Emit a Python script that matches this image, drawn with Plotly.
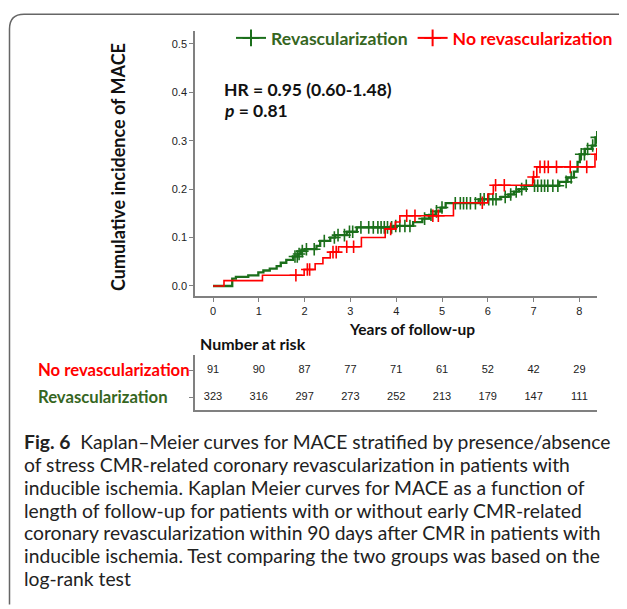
import numpy as np
import plotly.graph_objects as go

# ---------------- data ----------------
revasc_event_t = [0, 0.42, 0.50, 0.77, 0.99, 1.10, 1.24, 1.39, 1.48, 1.60, 1.75, 1.85, 1.92, 2.00,
                  2.26, 2.34, 2.56, 2.67, 2.92, 3.14, 3.95, 4.37, 4.57, 4.72, 4.86, 4.97, 5.08,
                  5.80, 6.28, 6.45, 6.57, 6.68, 6.80, 7.56, 7.74, 7.88, 7.96, 8.01, 8.12, 8.27, 8.35]
revasc_event_cum = [0, 0.015, 0.019, 0.022, 0.028, 0.032, 0.036, 0.041, 0.048, 0.054, 0.061, 0.066, 0.072, 0.076,
                    0.083, 0.093, 0.100, 0.105, 0.112, 0.121, 0.124, 0.132, 0.139, 0.147, 0.154, 0.162, 0.171,
                    0.179, 0.184, 0.189, 0.195, 0.200, 0.207, 0.215, 0.224, 0.236, 0.256, 0.272, 0.283, 0.290, 0.307]
revasc_censor_t = [1.79, 1.84, 1.88, 1.95, 2.04, 2.21, 2.43, 2.65, 2.73, 2.87, 2.98, 3.05, 3.23,
                   3.40, 3.50, 3.60, 3.67, 3.74, 3.81, 3.90, 3.99, 4.08, 4.19, 4.30, 4.62, 4.76,
                   4.88, 5.00, 5.29, 5.40, 5.47, 5.54, 5.62, 5.73, 5.84, 5.92, 6.02, 6.11, 6.18,
                   6.38, 6.50, 6.62, 6.74, 6.84, 7.02, 7.09, 7.17, 7.24, 7.31, 7.42, 7.53, 7.71,
                   7.82, 8.04, 8.11, 8.18, 8.29, 8.38]
norev_event_t = [0, 0.24, 1.08, 1.99, 2.23, 2.40, 2.56, 2.74, 3.24, 3.76, 3.98, 4.08, 5.25,
                 6.00, 6.12, 6.98, 7.07, 8.34]
norev_event_cum = [0, 0.011, 0.022, 0.034, 0.046, 0.058, 0.070, 0.081, 0.100, 0.118, 0.132, 0.145, 0.172,
                   0.190, 0.208, 0.225, 0.246, 0.272]
norev_censor_t = [1.81, 2.06, 2.11, 2.62, 2.69, 2.92, 3.07, 3.88, 4.23, 4.41, 4.80, 4.92, 5.88,
                  6.17, 6.36, 7.00, 7.14, 7.24, 7.32, 7.50, 7.80, 8.16, 8.38]

risk_times = [0, 1, 2, 3, 4, 5, 6, 7, 8]
risk_norev = [91, 90, 87, 77, 71, 61, 52, 42, 29]
risk_revasc = [323, 316, 297, 273, 252, 213, 179, 147, 111]
risk_rows = ["No revascularization", "Revascularization"]

caption_lines = [
    "<b>Fig. 6</b>  Kaplan–Meier curves for MACE stratified by presence/absence",
    "of stress CMR-related coronary revascularization in patients with",
    "inducible ischemia. Kaplan Meier curves for MACE as a function of",
    "length of follow-up for patients with or without early CMR-related",
    "coronary revascularization within 90 days after CMR in patients with",
    "inducible ischemia. Test comparing the two groups was based on the",
    "log-rank test",
]

GREEN = "#1b6f1b"
GREEN_TXT = "#36661f"
RED = "#ff0000"

# page body has an 8px margin; positions below are in screen pixels
W, H = 627, 609
OFF = 8
ML, MT = 195 - OFF, 28 - OFF
PW = 402
PH = 382
MR = W - ML - PW
MB = H - MT - PH


def px_x(px):
    return (px - 195) / PW


def px_y(py):
    return (410 - py) / PH


def step_value(times, cums, t):
    i = np.searchsorted(np.asarray(times), t, side="right") - 1
    return np.asarray(cums)[i]


fig = go.Figure()

for col, et, ec, ct, lw in [
    (GREEN, revasc_event_t, revasc_event_cum, revasc_censor_t, 2.3),
    (RED, norev_event_t, norev_event_cum, norev_censor_t, 1.6),
]:
    line_x = list(et) + [max(ct)]
    line_y = list(ec) + [ec[-1]]
    fig.add_trace(go.Scatter(x=line_x, y=line_y, mode="lines", line=dict(color=col, width=lw, shape="hv"),
                             showlegend=False, hoverinfo="skip"))
    cy = [step_value(et, ec, t) for t in ct]
    fig.add_trace(go.Scatter(x=ct, y=cy, mode="markers",
                             marker=dict(symbol="cross-thin", size=9, line=dict(color=col, width=1.6)),
                             showlegend=False, hoverinfo="skip"))

# legend entries
for name_txt, txt_col, col in [("Revascularization", GREEN_TXT, GREEN), ("No revascularization", RED, RED)]:
    fig.add_trace(go.Scatter(x=[None], y=[None], mode="lines+markers",
                             name=f"<span style='color:{txt_col}'><b>{name_txt}</b></span>",
                             line=dict(color=col, width=2),
                             marker=dict(symbol="cross-thin", size=12, line=dict(color=col, width=2))))

# number at risk table
for row_idx, vals in [(1, risk_norev), (0, risk_revasc)]:
    fig.add_trace(go.Scatter(x=risk_times, y=[row_idx] * len(risk_times), mode="text",
                             text=[str(v) for v in vals], textposition="middle center",
                             textfont=dict(family="Liberation Sans, Arial", size=11, color="#222"),
                             xaxis="x2", yaxis="y2", showlegend=False, hoverinfo="skip"))

axis_col = "#808080"
tickfont = dict(family="Liberation Sans, Arial", size=11, color="#222")
xr = [(195 - 213) / 45.8, (597 - 213) / 45.8]

fig.update_layout(
    width=W, height=H,
    margin=dict(l=ML, r=MR, t=MT, b=MB),
    plot_bgcolor="white", paper_bgcolor="white",
    xaxis=dict(domain=[0, 1], range=xr, anchor="y", tickvals=risk_times, showgrid=False, zeroline=False,
               showline=True, linecolor=axis_col, linewidth=1.5, ticks="outside", ticklen=4,
               tickcolor=axis_col, tickfont=tickfont),
    yaxis=dict(domain=[px_y(295), 1], range=[-0.0205, 0.5266], anchor="x",
               tickvals=[0, 0.1, 0.2, 0.3, 0.4, 0.5], tickformat=".1f", showgrid=False, zeroline=False,
               showline=True, linecolor=axis_col, linewidth=1.5, ticks="outside", ticklen=4,
               tickcolor=axis_col, tickfont=tickfont),
    xaxis2=dict(domain=[0, 1], range=xr, anchor="y2", showticklabels=False, showgrid=False, zeroline=False,
                showline=True, linecolor=axis_col, linewidth=1.5, ticks=""),
    yaxis2=dict(domain=[0, px_y(355)], range=[-0.481, 1.556], anchor="x2",
                tickvals=[1, 0], showticklabels=False,
                showgrid=False, zeroline=False, showline=True, linecolor=axis_col, linewidth=1.5,
                ticks="outside", ticklen=4, tickcolor=axis_col),
    legend=dict(orientation="h", x=px_x(231), xanchor="left", y=px_y(35), yanchor="middle",
                font=dict(family="Lato", size=17.6), bgcolor="rgba(0,0,0,0)", itemwidth=30,
                traceorder="normal"),
    font=dict(family="Lato", color="#111"),
)

ann = [
    dict(text="<b>Cumulative incidence of MACE</b>", x=px_x(118), y=px_y(165), textangle=-90,
         font=dict(family="Lato", size=18, color="#111"), xanchor="center", yanchor="middle"),
    dict(text="<b>Years of follow-up</b>", x=px_x(412), y=px_y(328),
         font=dict(family="Lato", size=15.5, color="#111"), xanchor="center", yanchor="middle"),
    dict(text="<b>Number at risk</b>", x=px_x(198), y=px_y(343),
         font=dict(family="Lato", size=16, color="#111"), xanchor="left", yanchor="middle"),
    dict(text="<b>HR = 0.95 (0.60-1.48)</b>", x=px_x(222), y=px_y(87),
         font=dict(family="Lato", size=17.5, color="#111"), xanchor="left", yanchor="middle"),
    dict(text="<b><i>p</i> = 0.81</b>", x=px_x(222), y=px_y(108),
         font=dict(family="Lato", size=17.5, color="#111"), xanchor="left", yanchor="middle"),
]
for a in ann:
    a.update(xref="paper", yref="paper")

# risk-table row labels (left aligned)
for row_idx, label, colr in [(1, risk_rows[0], RED), (0, risk_rows[1], GREEN_TXT)]:
    ann.append(dict(text=f"<b>{label}</b>", x=px_x(36), xref="paper", y=row_idx, yref="y2",
                    font=dict(family="Lato", size=16.7, color=colr), xanchor="left", yanchor="middle"))

# caption lines
for i, line in enumerate(caption_lines):
    ann.append(dict(text=line, x=px_x(22), xref="paper", y=px_y(441.7 + 23.05 * i), yref="paper",
                    font=dict(family="Lato", size=19.3, color="#222"), xanchor="left", yanchor="middle",
                    align="left"))

for a in ann:
    a["showarrow"] = False
fig.update_layout(annotations=ann)

# outer rounded frame (left and top edges)
path = (f"M {px_x(9.5)},{px_y(606)} L {px_x(9.5)},{px_y(26)} "
        f"Q {px_x(9.5)},{px_y(11)} {px_x(24)},{px_y(11)} L {px_x(625)},{px_y(11)}")
fig.add_shape(type="path", path=path, xref="paper", yref="paper", line=dict(color="#666", width=1.5))

fig.write_html("out.html")
